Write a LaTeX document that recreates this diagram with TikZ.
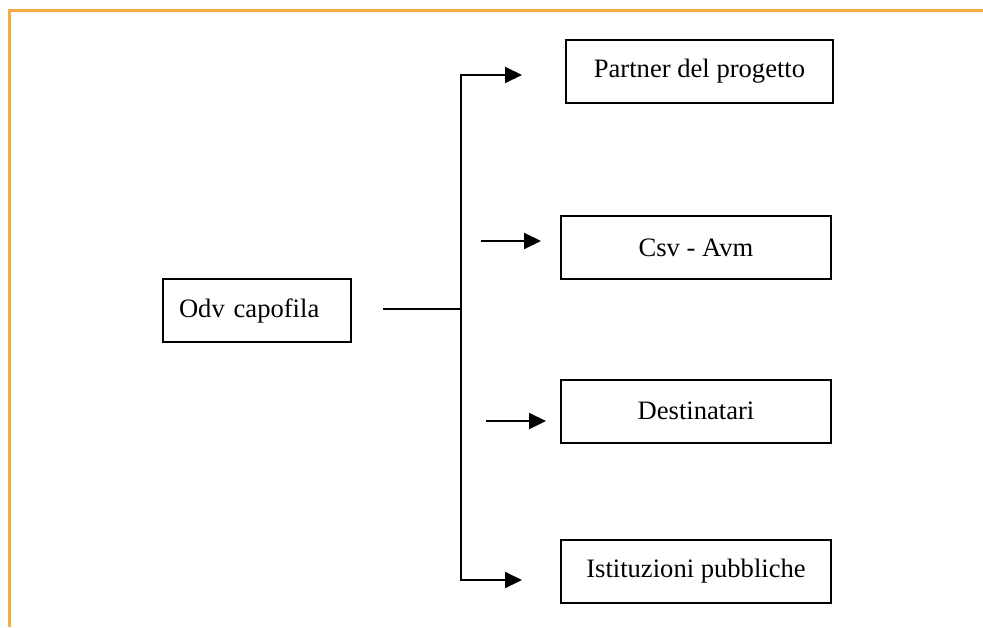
\documentclass[tikz,border=0pt]{standalone}
\usepackage{fontspec}
\setmainfont{Liberation Serif}
\usetikzlibrary{arrows.meta}
\definecolor{framecol}{RGB}{248,172,72}
\tikzset{box/.style={draw,line width=1pt,minimum height=31.5pt,minimum width=135pt,
    font=\fontsize{13.3}{15}\selectfont},
link/.style={line width=1pt}
}

\begin{document}
\begin{tikzpicture}[x=0.5pt,y=-0.5pt,> = {Triangle[length=8.5pt,width=8pt]}]
            \useasboundingbox (0,0) rectangle (983,627);
            \draw[framecol,line width=1.5pt] (9,627) -- (9,10) -- (983,10);
            \node[box,align=left,text width=78pt,inner xsep=8pt,minimum width=0pt] (odv) at (257,310.5) {Odv capofila};
            \node[box,minimum width=133.5pt] (partner) at (699.5,71) {Partner del progetto};
            \node[box] (csv) at (696,247.5) {Csv - Avm};
            \node[box] (dest) at (696,411) {Destinatari};
            \node[box] (ist) at (696,571.5) {Istituzioni pubbliche};
            \coordinate (fork) at (461,309);
            \coordinate (trunktop) at (461,75);
            \coordinate (trunkbot) at (461,580);
            \coordinate (csvfrom) at (481,241);
            \coordinate (destfrom) at (486,421);
            \draw[link,shorten <=15.5pt] (odv.east |- fork) -- (fork);
            \draw[link] (trunktop) -- (trunkbot);
            \draw[link,->,shorten >=21.5pt] (fork) |- (partner.west |- trunktop);
            \draw[link,->,shorten >=19pt] (fork) |- (ist.west |- trunkbot);
            \draw[link,->,shorten >=9.5pt] (csvfrom) -- (csv.west |- csvfrom);
            \draw[link,->,shorten >=7pt] (destfrom) -- (dest.west |- destfrom);
        \end{tikzpicture}
\end{document}
